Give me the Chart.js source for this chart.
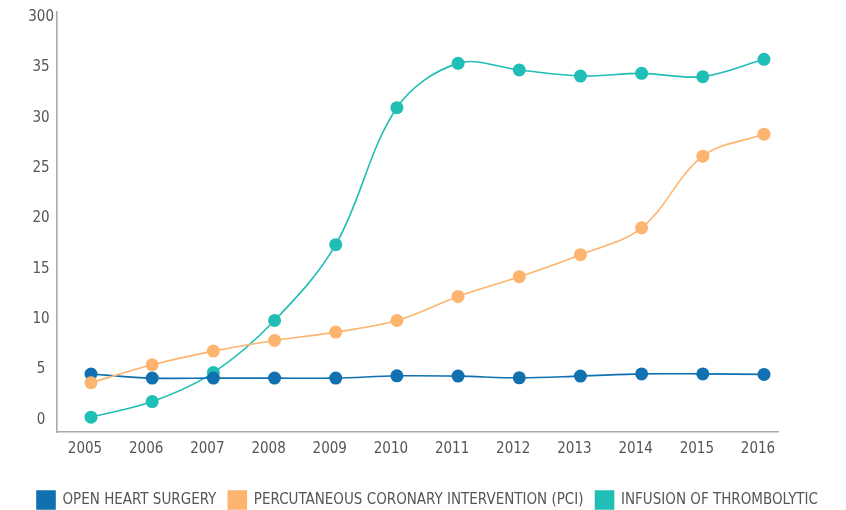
<!DOCTYPE html>
<html>
<head>
<meta charset="utf-8">
<script src="https://cdn.jsdelivr.net/npm/chart.js@4.4.1/dist/chart.umd.min.js"></script>
<style>
  html, body { margin: 0; padding: 0; background: #ffffff; }
  #wrap { width: 846px; height: 510px; position: relative; }
</style>
</head>
<body>
<div id="wrap"><canvas id="c" width="846" height="510"></canvas></div>
<script>
const years = [2005, 2006, 2007, 2008, 2009, 2010, 2011, 2012, 2013, 2014, 2015, 2016];
const openHeartSurgery = [4.55, 4.15, 4.15, 4.15, 4.15, 4.38, 4.35, 4.18, 4.35, 4.57, 4.57, 4.52];
const pci = [3.7, 5.47, 6.83, 7.89, 8.72, 9.87, 12.26, 14.22, 16.41, 19.07, 26.19, 28.37];
const thrombolytic = [0.27, 1.82, 4.7, 9.87, 17.4, 31.0, 35.4, 34.74, 34.14, 34.41, 34.08, 35.8];
const seriesNames = ['OPEN HEART SURGERY', 'PERCUTANEOUS CORONARY INTERVENTION (PCI)', 'INFUSION OF THROMBOLYTIC'];
const yTickValues = [0, 5, 10, 15, 20, 25, 30, 35, 40];
const yTickLabels = ['0', '5', '10', '15', '20', '25', '30', '35', '300'];

const FONT = "'DejaVu Sans Condensed', 'Liberation Sans Narrow', sans-serif";
const TEXT = '#555555';
const COLORS = ['#1070b0', '#fdb46e', '#20beb6'];

function pts(vals) { return years.map((y, i) => ({ x: y, y: vals[i] })); }

const legendShift = {
  id: 'legendShift',
  afterLayout(chart) {
    const l = chart.legend;
    if (!l || !l.lineWidths) return;
    const pad = l.options.labels.padding;
    const startX = (l.left + pad + l.right - l.lineWidths[0]) / 2;
    const dx = 37 - startX;
    const dy = 491 - (l.top + pad);
    l.left += dx; l.right += dx; l.top += dy; l.bottom += dy;
  }
};

function ds(i, vals, order) {
  return {
    label: seriesNames[i],
    data: pts(vals),
    borderColor: COLORS[i],
    backgroundColor: COLORS[i],
    pointBackgroundColor: COLORS[i],
    pointBorderColor: COLORS[i],
    pointBorderWidth: 0,
    pointRadius: 6.5,
    borderWidth: 1.6,
    tension: 0.35,
    order: order
  };
}

new Chart(document.getElementById('c'), {
  type: 'line',
  data: {
    datasets: [
      ds(0, openHeartSurgery, 1),
      ds(1, pci, 0),
      ds(2, thrombolytic, 2)
    ]
  },
  options: {
    responsive: false,
    animation: false,
    layout: { padding: 0 },
    plugins: {
      tooltip: { enabled: false },
      legend: {
        position: 'bottom',
        labels: {
          boxWidth: 18,
          boxHeight: 18,
          padding: 12,
          color: TEXT,
          font: { family: FONT, size: 15 },
          sort: (a, b) => a.datasetIndex - b.datasetIndex
        }
      }
    },
    scales: {
      x: {
        type: 'linear',
        min: 2004.444,
        max: 2016.229,
        grid: { display: false, drawTicks: false },
        border: { display: true, color: '#ababab', width: 1.6 },
        afterBuildTicks: (s) => { s.ticks = years.map(v => ({ value: v })); },
        afterFit: (s) => { s.height = 38; },
        ticks: {
          padding: 8,
          labelOffset: -6,
          color: TEXT,
          font: { family: FONT, size: 15 },
          callback: (v) => String(v)
        }
      },
      y: {
        type: 'linear',
        position: 'left',
        min: -1.2,
        max: 40.5,
        grid: { display: false, drawTicks: false },
        border: { display: true, color: '#ababab', width: 1.6 },
        afterBuildTicks: (s) => { s.ticks = yTickValues.map(v => ({ value: v })); },
        afterFit: (s) => { s.width = 57; },
        ticks: {
          padding: 3,
          crossAlign: 'center',
          color: TEXT,
          font: { family: FONT, size: 15 },
          callback: (v) => yTickLabels[yTickValues.indexOf(v)]
        }
      },
      yRight: {
        type: 'linear',
        position: 'right',
        display: true,
        grid: { display: false, drawTicks: false },
        border: { display: false },
        ticks: { display: false },
        afterFit: (s) => { s.width = 68; }
      }
    }
  },
  plugins: [legendShift]
});
</script>
</body>
</html>
